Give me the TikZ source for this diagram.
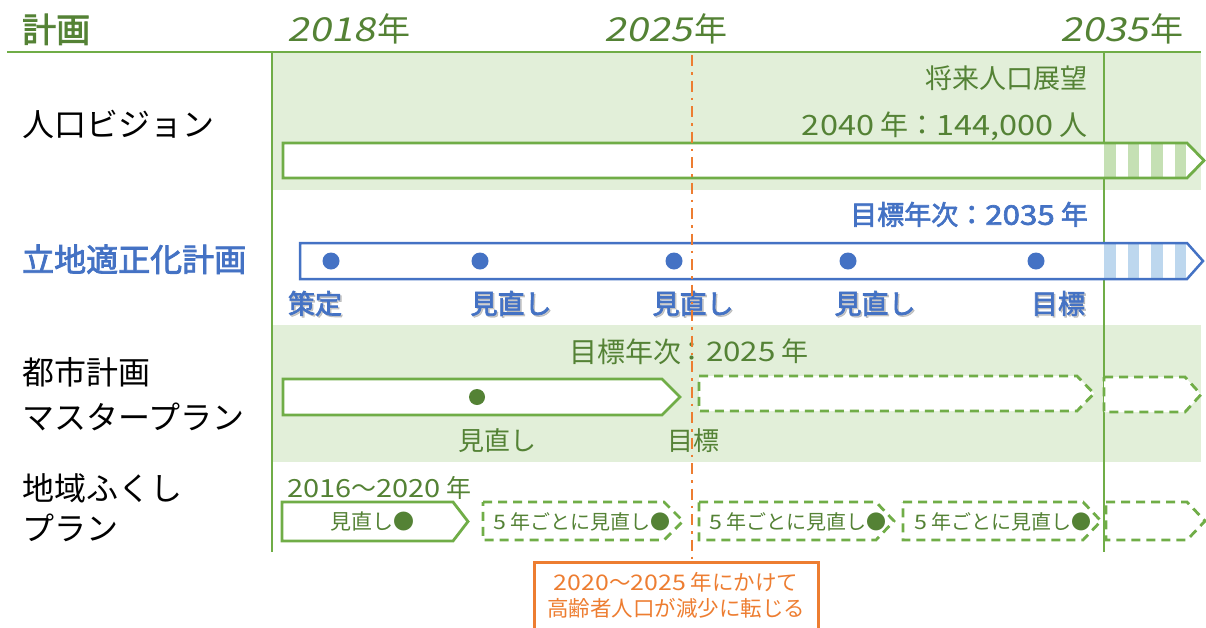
\documentclass[tikz,border=0pt]{standalone}
\usepackage{fontspec}
\setmainfont{Noto Sans CJK JP}[AutoFakeBold=2.5]
\newfontfamily\yr{Noto Sans CJK JP}[FakeSlant=0.2,FakeStretch=1.2]
\newfontfamily\dgf{Noto Sans CJK JP}[FakeStretch=1.16,AutoFakeBold=2.5]
\newcommand{\dg}[1]{{\dgf #1}}
\definecolor{gtext}{HTML}{548235}
\definecolor{gline}{HTML}{70AD47}
\definecolor{gband}{HTML}{E2EFD9}
\definecolor{gstripe}{HTML}{C5E0B4}
\definecolor{bline}{HTML}{4472C4}
\definecolor{bstripe}{HTML}{BDD7EE}
\definecolor{orng}{HTML}{ED7D31}
\newcommand{\fsz}[1]{\fontsize{#1}{#1}\selectfont}
\usetikzlibrary{calc}
\tikzset{
  lbl/.style={inner sep=0pt, text height=0.86em, text depth=0.14em},
  gborder/.style={draw=gline, line width=2.8pt, line join=miter},
  bborder/.style={draw=bline, line width=2.5pt, line join=miter},
  gdash/.style={draw=gline, line width=2.8pt, dash pattern=on 9pt off 6pt},
  bluelbl/.style={lbl, text=bline, node font=\fsz{27}\bfseries},
}
\newcommand{\shlabel}[3]{%
  \node[bluelbl, text=black!35, opacity=0.6] at ($(#1)+(1.5,1.5)$) {#3};
  \node[bluelbl] (#2) at (#1) {#3};}
\begin{document}
\begin{tikzpicture}[x=1pt,y=-1pt]
\useasboundingbox (0,0) rectangle (1206,627);
% bands
\fill[gband] (272,52) rectangle (1201,190);
\fill[gband] (272,325) rectangle (1201,462);
% header
\draw[gline, line width=2.4pt] (7,52) -- (1201,52);
\node[lbl, anchor=west, text=gtext, node font=\fsz{34}\bfseries] (hplan) at (22,30) {計画};
\node[lbl, anchor=west, text=gtext, node font=\fsz{33}] (y2018) at (287,30) {{\yr 2018}\kern2pt 年};
\node[lbl, anchor=west, text=gtext, node font=\fsz{33}] (y2025) at (604,30) {{\yr 2025}\kern2pt 年};
\node[lbl, anchor=west, text=gtext, node font=\fsz{33}] (y2035) at (1060,30) {{\yr 2035}\kern2pt 年};
% vertical lines
\draw[gline, line width=2pt] (272,52) -- (272,552);
\draw[gline, line width=2pt] (1104,52) -- (1104,552);
% row labels
\node[lbl, anchor=west, node font=\fsz{32}] (r1) at (22,125) {人口ビジョン};
\node[lbl, anchor=west, text=bline, node font=\fsz{32}\bfseries] (r2) at (22,260) {立地適正化計画};
\node[lbl, anchor=west, node font=\fsz{32}] (r3a) at (22,373) {都市計画};
\node[lbl, anchor=west, node font=\fsz{32}] (r3b) at (22,418) {マスタープラン};
\node[lbl, anchor=west, node font=\fsz{32}] (r4a) at (22,489) {地域ふくし};
\node[lbl, anchor=west, node font=\fsz{32}] (r4b) at (22,529) {プラン};
% row 1
\fill[white] (283,143) -- (1187,143) -- (1204,160.5) -- (1187,178) -- (283,178) -- cycle;
\foreach \s in {1104,1127.5,1151,1174.5} \fill[gstripe] (\s,144.3) rectangle (\s+11.5,176.7);
\path[gborder] (283,143) -- (1187,143) -- (1204,160.5) -- (1187,178) -- (283,178) -- cycle;
\node[lbl, anchor=east, text=gtext, node font=\fsz{27}] (fut) at (1088,79) {将来人口展望};
\node[lbl, anchor=east, text=gtext, node font=\fsz{28}] (pop) at (1088,125) {\dg{2040} 年：\dg{144,000} 人};
% row 2
\fill[white] (300,243) -- (1187,243) -- (1203,261) -- (1187,279) -- (300,279) -- cycle;
\foreach \s in {1104,1127.5,1151,1174.5} \fill[bstripe] (\s,244.2) rectangle (\s+11.5,277.8);
\path[bborder] (300,243) -- (1187,243) -- (1203,261) -- (1187,279) -- (300,279) -- cycle;
\node[lbl, anchor=east, text=bline, node font=\fsz{27}\bfseries] (tgt2) at (1088,215) {目標年次：\dg{\bfseries 2035} 年};
\foreach \x/\n in {331/d1,480/d2,674/d3,848/d4,1036/d5}
  \fill[bline] (\x,261) circle (8.5);
\shlabel{315,304}{l1}{策定}
\shlabel{511,304}{l2}{見直し}
\shlabel{693,304}{l3}{見直し}
\shlabel{875,304}{l4}{見直し}
\shlabel{1058,304}{l5}{目標}
% row 3
\path[gborder, fill=white] (283,379) -- (662,379) -- (680,397) -- (662,415) -- (283,415) -- cycle;
\path[gdash, fill=white] (699,376) -- (1077,376) -- (1094,393.5) -- (1077,411) -- (699,411) -- cycle;
\path[gdash, fill=white] (1104,377) -- (1185,377) -- (1201,394.5) -- (1185,412) -- (1104,412) -- cycle;
\fill[gtext] (477,397) circle (8);
\node[lbl, anchor=east, text=gtext, node font=\fsz{28}] (tgt3a) at (682,352) {目標年次};
\node[lbl, text=gtext, node font=\fsz{27}] (tgt3c) at (692,352) {：};
\node[lbl, anchor=west, text=gtext, node font=\fsz{27}] (tgt3b) at (706,352) {\dg{2025} 年};
\node[lbl, text=gtext, node font=\fsz{26}] (rev3) at (497,441) {見直し};
\node[lbl, text=gtext, node font=\fsz{26}] (goal3) at (693,441) {目標};
% row 4
\node[lbl, anchor=west, text=gtext, node font=\fsz{25}] (span4) at (287,488) {\dg{2016}～\dg{2020} 年};
\path[gborder, fill=white] (282,502) -- (453,502) -- (468,521.5) -- (453,541) -- (282,541) -- cycle;
\node[lbl, text=gtext, node font=\fsz{21}] (rev4) at (372,522) {見直し●};
\path[gdash, fill=white] (483,502) -- (664,502) -- (683,521) -- (664,540) -- (483,540) -- cycle;
\path[gdash, fill=white] (699,502) -- (876,502) -- (894,521) -- (876,540) -- (699,540) -- cycle;
\path[gdash, fill=white] (903,502) -- (1083,502) -- (1101,521) -- (1083,540) -- (903,540) -- cycle;
\path[gdash, fill=white] (1106,502) -- (1187,502) -- (1205,521) -- (1187,540) -- (1106,540) -- cycle;
\node[lbl, anchor=west, text=gtext, node font=\fsz{20}] (e1) at (493,522) {\dg{5} 年ごとに見直し●};
\node[lbl, anchor=west, text=gtext, node font=\fsz{20}] (e2) at (709,522) {\dg{5} 年ごとに見直し●};
\node[lbl, anchor=west, text=gtext, node font=\fsz{20}] (e3) at (914,522) {\dg{5} 年ごとに見直し●};
% orange
\coordinate (otop) at (692,55);
\node[draw=orng, line width=3pt, minimum width=284pt, minimum height=80pt, anchor=north, inner sep=0pt] (obox) at (676,561) {};
\draw[orng, line width=2pt, dash pattern=on 11pt off 6pt on 2.5pt off 6pt] (otop) -- (otop |- obox.north);
\node[lbl, text=orng, node font=\fsz{21.5}] (o1) at (676,583) {\dg{2020}～\dg{2025} 年にかけて};
\node[lbl, text=orng, node font=\fsz{21.5}] (o2) at (676,609) {高齢者人口が減少に転じる};
\end{tikzpicture}
\end{document}
